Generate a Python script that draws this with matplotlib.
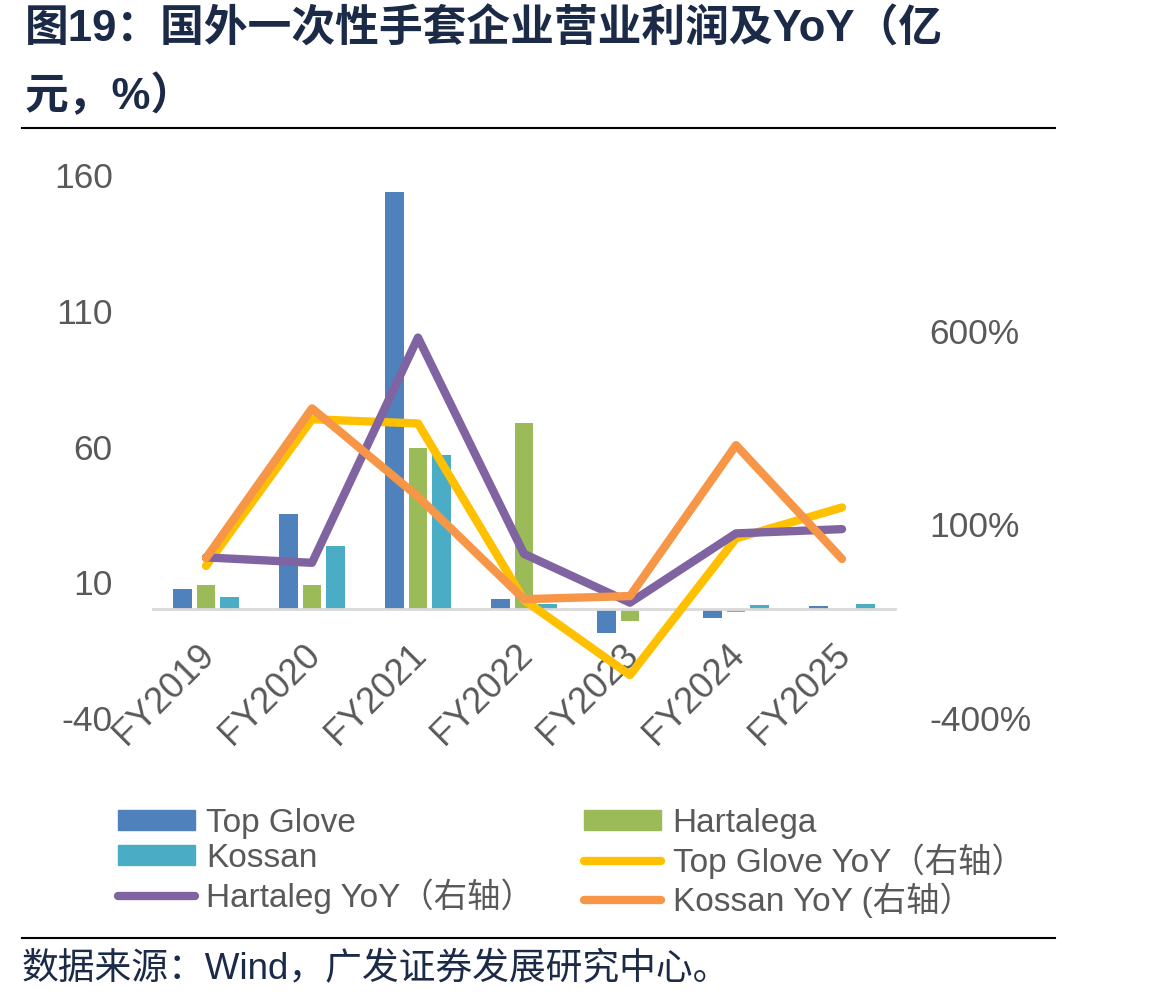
import numpy as np
import matplotlib
matplotlib.use("Agg")
from matplotlib import pyplot as plt
from matplotlib.lines import Line2D
from matplotlib.patches import Patch
from matplotlib.transforms import ScaledTranslation

# data (亿元 / %)
years = ["FY2019", "FY2020", "FY2021", "FY2022", "FY2023", "FY2024", "FY2025"]
top_glove = [7.5, 35.1, 153.9, 3.7, -8.6, -3.2, 1.2]
hartalega = [8.9, 8.9, 59.6, 68.5, -4.3, -1.1, 0.0]
kossan = [4.7, 23.4, 56.9, 2.0, 0.0, 1.6, 2.0]
top_glove_yoy = [-7, 372, 361, -95, -289, 64, 144]
hartalega_yoy = [15, 1, 583, 24, -102, 77, 88]
kossan_yoy = [13, 400, 172, -93, -85, 305, 11]

left_ticks = [-40, 10, 60, 110, 160]
right_ticks = [-400, 100, 600]

GRAY = "#595959"
NAVY = "#1b2a47"
FAM = ["Liberation Sans", "Noto Sans CJK SC"]
plt.rcParams["font.family"] = FAM
plt.rcParams["axes.unicode_minus"] = False

fig = plt.figure(figsize=(11.64, 10.06), dpi=100)
ax = fig.add_axes([153 / 1164, 1 - 718 / 1006, 742 / 1164, 543 / 1006])
ax2 = ax.twinx()

x = np.arange(len(years))
w = 0.176
step = 0.222
ax.bar(x - step, top_glove, w, color="#4F81BD", label="Top Glove")
ax.bar(x, hartalega, w, color="#9BBB59", label="Hartalega")
ax.bar(x + step, kossan, w, color="#4BACC6", label="Kossan")

lw = 6
ax2.plot(x, top_glove_yoy, color="#FFC000", lw=lw, solid_capstyle="round", solid_joinstyle="round")
ax2.plot(x, hartalega_yoy, color="#8064A2", lw=lw, solid_capstyle="round", solid_joinstyle="round")
ax2.plot(x, kossan_yoy, color="#F79646", lw=lw, solid_capstyle="round", solid_joinstyle="round")

ax.set_xlim(-0.5, len(years) - 0.5)
ax.set_ylim(-40, 160)
ax2.set_ylim(-400, 1003)
ax.set_yticks(left_ticks)
ax2.set_yticks(right_ticks)
ax2.set_yticklabels([f"{t}%" for t in right_ticks])

for a in (ax, ax2):
    for s in a.spines.values():
        s.set_visible(False)
ax.spines["bottom"].set_visible(True)
ax.spines["bottom"].set_position(("data", 0))
ax.spines["bottom"].set_color("#d9d9d9")
ax.spines["bottom"].set_linewidth(2)

ax.tick_params(axis="y", length=0, pad=29, labelsize=25.5, labelcolor=GRAY)
ax2.tick_params(axis="y", length=0, pad=25, labelsize=25.5, labelcolor=GRAY)
ax.set_xticks(x)
ax.set_xticklabels(years, rotation=45, ha="right", va="top", rotation_mode="anchor")
ax.tick_params(axis="x", length=0, pad=20, labelsize=26, labelcolor=GRAY)
for lab in ax.get_xticklabels():
    lab.set_transform(lab.get_transform() + ScaledTranslation(-9 / 100, 0, fig.dpi_scale_trans))

# legend, row-wise like the original
h_tg = Patch(color="#4F81BD")
h_h = Patch(color="#9BBB59")
h_k = Patch(color="#4BACC6")
h_tgy = Line2D([], [], color="#FFC000", lw=lw, solid_capstyle="round")
h_hy = Line2D([], [], color="#8064A2", lw=lw, solid_capstyle="round")
h_ky = Line2D([], [], color="#F79646", lw=lw, solid_capstyle="round")
handles = [h_tg, h_k, h_hy, h_h, h_tgy, h_ky]
labels = ["Top Glove", "Kossan", "Hartaleg YoY（右轴）",
          "Hartalega", "Top Glove YoY（右轴）", "Kossan YoY (右轴）"]
fig.legend(handles, labels, ncol=2, loc="upper left",
           bbox_to_anchor=(88 / 1164, 1 - 778 / 1006), frameon=False,
           fontsize=24, labelcolor=GRAY, handlelength=2.3, handleheight=0.55,
           handletextpad=0.35, columnspacing=1.5, labelspacing=0.12)

# title and source
fig.text(25 / 1164, 1 - 30 / 1006, "图19：国外一次性手套企业营业利润及YoY（亿",
         fontsize=31.5, fontweight="bold", color=NAVY, va="center")
fig.text(25 / 1164, 1 - 97 / 1006, "元，%）",
         fontsize=31.5, fontweight="bold", color=NAVY, va="center")
fig.add_artist(Line2D([22 / 1164, 1055 / 1164], [1 - 128 / 1006] * 2, color="black", lw=1.5))
fig.add_artist(Line2D([22 / 1164, 1055 / 1164], [1 - 938 / 1006] * 2, color="black", lw=1.5))
fig.text(22 / 1164, 1 - 970 / 1006, "数据来源：Wind，广发证券发展研究中心。",
         fontsize=26.5, color=NAVY, va="center")

fig.savefig("out.png", dpi=100)
